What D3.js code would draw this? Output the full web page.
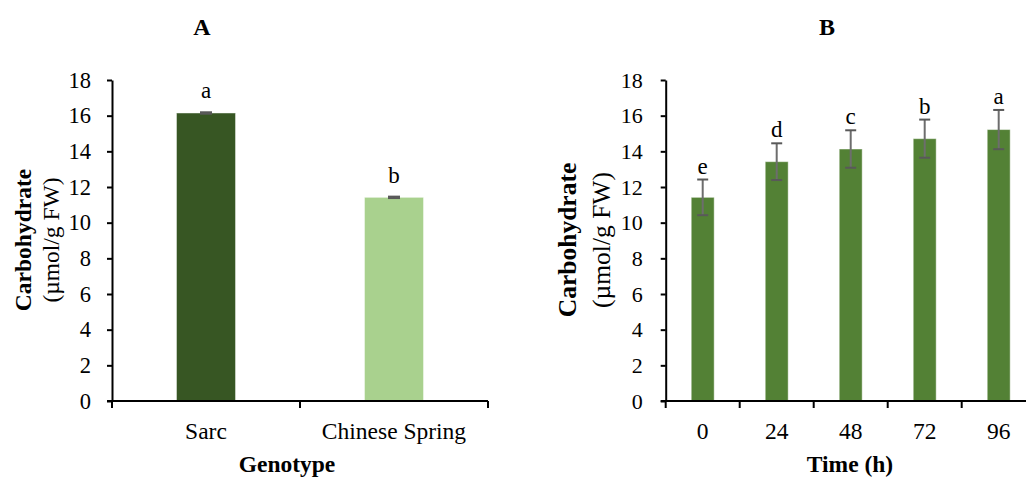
<!DOCTYPE html>
<html>
<head>
<meta charset="utf-8">
<script src="https://cdn.jsdelivr.net/npm/d3@7"></script>
<style>
  html, body { margin: 0; padding: 0; background: #fff; }
  svg { display: block; }
  text { font-family: "Liberation Serif", "Times New Roman", serif; fill: #000; }
</style>
</head>
<body>
<svg id="chart" width="1026" height="478"></svg>
<script>
// Panel A: carbohydrate content by genotype
const genotypes = ["Sarc", "Chinese Spring"];
const genotypeMeans = [16.15, 11.42];
const genotypeErrors = [0.04, 0.04];
const genotypeLetters = ["a", "b"];
const genotypeColors = ["#375623", "#a9d18e"];

// Panel B: carbohydrate content over time
const timePoints = ["0", "24", "48", "72", "96"];
const timeMeans = [11.42, 13.42, 14.13, 14.71, 15.22];
const timeErrors = [1.0, 1.03, 1.05, 1.07, 1.1];
const timeLetters = ["e", "d", "c", "b", "a"];
const timeColor = "#538135";

const yTicks = [0, 2, 4, 6, 8, 10, 12, 14, 16, 18];

const svg = d3.select("#chart");

function drawPanel(opts) {
  const g = svg.append("g");
  const y = d3.scaleLinear().domain([0, 18]).range([401, 80]);
  const x = d3.scaleBand().domain(opts.categories).range([opts.x0, opts.x1]).padding(0);
  const barW = x.bandwidth() * opts.barFrac;

  // panel title
  g.append("text")
    .attr("x", opts.titleX).attr("y", 35)
    .attr("text-anchor", "middle")
    .style("font-size", "24px").style("font-weight", "bold")
    .text(opts.title);

  // y axis
  const yAxis = g.append("g")
    .attr("transform", `translate(${opts.x0},0)`)
    .call(d3.axisLeft(y).tickValues(yTicks).tickSize(5).tickSizeOuter(0).tickPadding(opts.tickPad));
  yAxis.select(".domain").attr("stroke", "#000").attr("stroke-width", 2);
  yAxis.selectAll(".tick line").attr("stroke", "#000").attr("stroke-width", 2);
  yAxis.selectAll(".tick text")
    .style("font-size", opts.tickSize + "px")
    .style("font-family", "Liberation Serif, Times New Roman, serif")
    .attr("fill", "#000");

  // bars
  g.selectAll("rect.bar")
    .data(opts.categories)
    .join("rect")
    .attr("class", "bar")
    .attr("x", (d) => x(d) + (x.bandwidth() - barW) / 2)
    .attr("width", barW)
    .attr("y", (d, i) => y(opts.means[i]))
    .attr("height", (d, i) => y(0) - y(opts.means[i]))
    .attr("fill", (d, i) => opts.colors[i])
    .attr("stroke", "rgba(255,255,255,0.45)")
    .attr("stroke-width", 1);

  // error bars
  const eb = g.selectAll("g.err")
    .data(opts.categories)
    .join("g")
    .attr("class", "err")
    .attr("transform", (d) => `translate(${x(d) + x.bandwidth() / 2},0)`);
  const capW = opts.capW;
  eb.append("line")
    .attr("y1", (d, i) => y(opts.means[i] + opts.errors[i]))
    .attr("y2", (d, i) => y(opts.means[i] - opts.errors[i]))
    .attr("stroke", "#6d6d6d").attr("stroke-width", 2);
  eb.append("line")
    .attr("x1", -capW / 2).attr("x2", capW / 2)
    .attr("y1", (d, i) => y(opts.means[i] + opts.errors[i]))
    .attr("y2", (d, i) => y(opts.means[i] + opts.errors[i]))
    .attr("stroke", "#595959").attr("stroke-width", 2);
  eb.append("line")
    .attr("x1", -capW / 2).attr("x2", capW / 2)
    .attr("y1", (d, i) => y(opts.means[i] - opts.errors[i]))
    .attr("y2", (d, i) => y(opts.means[i] - opts.errors[i]))
    .attr("stroke", "#595959").attr("stroke-width", 2);

  // significance letters
  g.selectAll("text.letter")
    .data(opts.categories)
    .join("text")
    .attr("class", "letter")
    .attr("x", (d) => x(d) + x.bandwidth() / 2)
    .attr("y", (d, i) => y(opts.means[i] + opts.errors[i]) - opts.letterGap)
    .attr("text-anchor", "middle")
    .style("font-size", "23px")
    .text((d, i) => opts.letters[i]);

  // x axis line with category boundary ticks
  g.append("line")
    .attr("x1", opts.x0 - 5).attr("x2", opts.x1)
    .attr("y1", y(0)).attr("y2", y(0))
    .attr("stroke", "#000").attr("stroke-width", 2);
  const bounds = opts.categories.map((d) => x(d)).concat([opts.x1]);
  g.selectAll("line.xtick")
    .data(bounds)
    .join("line")
    .attr("class", "xtick")
    .attr("x1", (d) => d).attr("x2", (d) => d)
    .attr("y1", y(0)).attr("y2", y(0) + 7)
    .attr("stroke", "#000").attr("stroke-width", 2);

  // category labels
  g.selectAll("text.cat")
    .data(opts.categories)
    .join("text")
    .attr("class", "cat")
    .attr("x", (d) => x(d) + x.bandwidth() / 2)
    .attr("y", 439)
    .attr("text-anchor", "middle")
    .style("font-size", "23.5px")
    .text((d) => d);

  // x axis title
  g.append("text")
    .attr("x", opts.xTitleX).attr("y", 472)
    .attr("text-anchor", "middle")
    .style("font-size", "23.5px").style("font-weight", "bold")
    .text(opts.xTitle);

  // y axis title (two lines)
  const yt = g.append("text")
    .attr("transform", `translate(${opts.yTitleX},240) rotate(-90)`)
    .attr("text-anchor", "middle");
  yt.append("tspan")
    .attr("x", 0).attr("dy", 0)
    .style("font-size", opts.yTitleSize + "px").style("font-weight", "bold")
    .text("Carbohydrate");
  yt.append("tspan")
    .attr("x", 0).attr("dy", opts.yTitleLine)
    .style("font-size", opts.yTitleSize + "px")
    .text("(µmol/g FW)");
}

drawPanel({
  title: "A", titleX: 202,
  categories: genotypes, means: genotypeMeans, errors: genotypeErrors,
  letters: genotypeLetters, colors: genotypeColors,
  x0: 112, x1: 488, barFrac: 0.314, capW: 12, letterGap: 14,
  tickSize: 22.5, tickPad: 16,
  xTitle: "Genotype", xTitleX: 287,
  yTitleX: 31, yTitleSize: 23.5, yTitleLine: 28
});

drawPanel({
  title: "B", titleX: 827,
  categories: timePoints, means: timeMeans, errors: timeErrors,
  letters: timeLetters, colors: timePoints.map(() => timeColor),
  x0: 665.7, x1: 1035.7, barFrac: 0.31, capW: 11, letterGap: 6,
  tickSize: 22, tickPad: 18,
  xTitle: "Time (h)", xTitleX: 850,
  yTitleX: 576, yTitleSize: 25.5, yTitleLine: 34
});
</script>
</body>
</html>
